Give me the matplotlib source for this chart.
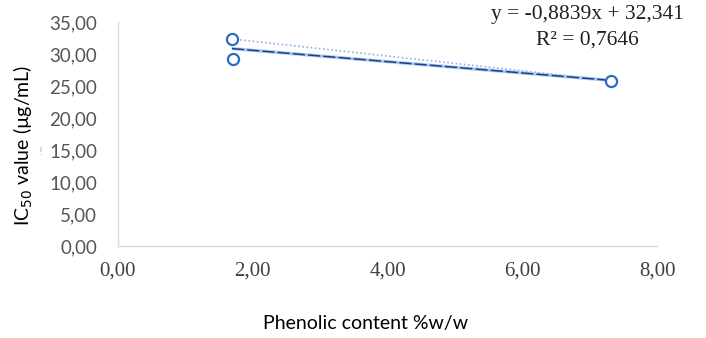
import matplotlib
matplotlib.use("Agg")
import matplotlib.pyplot as plt
import numpy as np

# Data
phenolic = [1.69, 1.71, 7.32]          # %w/w
ic50 = [32.35, 29.20, 25.85]           # µg/mL
slope, intercept = -0.8839, 32.341
r2 = 0.7646
x_ticks = [0, 2, 4, 6, 8]
y_ticks = [0, 5, 10, 15, 20, 25, 30, 35]

fig = plt.figure(figsize=(7.06, 3.38), dpi=100)
W, H = 706, 338
ax = fig.add_axes([118 / W, 1 - 246 / H, (657 - 118) / W, (246 - 22) / H])

ax.set_xlim(0, 8)
ax.set_ylim(0, 35)

x = np.array(phenolic)
y = np.array(ic50)

# dotted series line (point 1 to point 3)
ax.plot(x[[0, 2]], y[[0, 2]], linestyle=(0, (1, 1.5)), color="#8fb4e3", lw=1.2, zorder=2)

# trendline
xt = np.array([x.min(), x.max()])
yt = slope * xt + intercept
ax.plot(xt, yt, color="#a9cbef", lw=2.4, solid_capstyle="butt", zorder=2)
ax.plot(xt, yt, color="#1f3d8c", lw=1.1, linestyle=(0, (8, 2)), zorder=3)

# markers
ax.plot(x, y, linestyle="none", marker="o", ms=8, mfc="white", mec="#2e6bc4", mew=1.6, zorder=4)

for s in ["top", "right"]:
    ax.spines[s].set_visible(False)
for s in ["left", "bottom"]:
    ax.spines[s].set_color("#d9d9d9")
    ax.spines[s].set_linewidth(1.0)

ax.set_xticks(x_ticks)
ax.set_yticks(y_ticks)
ax.set_xticklabels([f"{v:.2f}".replace(".", ",") for v in x_ticks],
                   family="Liberation Serif", fontsize=15, color="#404040")
ax.set_yticklabels([f"{v:.2f}".replace(".", ",") for v in y_ticks],
                   family="Lato", fontsize=13.5, color="#555555")
ax.tick_params(axis="both", length=0)
ax.tick_params(axis="x", pad=11)
ax.tick_params(axis="y", pad=15)

ax.set_xlabel("Phenolic content %w/w", family="Lato", fontsize=14, color="black")
ax.set_ylabel("IC$_{50}$ value (µg/mL)", family="Lato", fontsize=14, color="black")
ax.xaxis.label.set_va("center")
ax.yaxis.label.set_va("center")
ax.xaxis.set_label_coords((366 - 118) / (657 - 118), -(323 - 246) / (246 - 22))
ax.yaxis.set_label_coords(-(118 - 23) / (657 - 118), (246 - 145) / (246 - 22))

fig.text(40 / W, 1 - 152 / H, "!", color="#b0b0b0", fontsize=7, ha="center", va="center")

fig.text(587 / W, 1 - 15 / H, f"y = {slope:.4f}x + {intercept:.3f}".replace(".", ","),
         family="Liberation Serif", fontsize=15.5, ha="center", va="center", color="#202020")
fig.text(587 / W, 1 - 40 / H, f"R² = {r2:.4f}".replace(".", ","),
         family="Liberation Serif", fontsize=15.5, ha="center", va="center", color="#202020")

fig.savefig("out.png", dpi=100)
